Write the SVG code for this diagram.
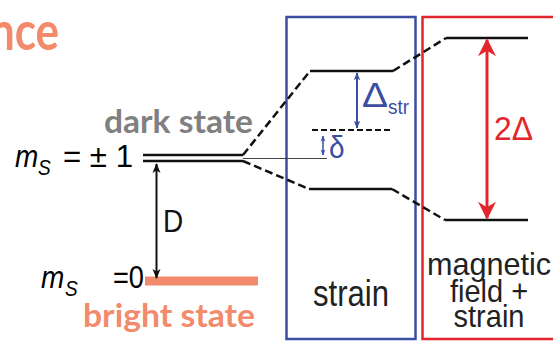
<svg xmlns="http://www.w3.org/2000/svg" width="553" height="342" viewBox="0 0 553 342">
<style>
.lvl{stroke:#111;stroke-width:2.5;fill:none}
.dash{stroke:#111;stroke-width:2.5;fill:none;stroke-dasharray:8 4}
.ar{font-family:"Liberation Sans",Arial,sans-serif}
.lato{font-family:Lato,"Open Sans",sans-serif;font-weight:bold}
.sal{fill:#f28b6c}
</style>
<defs>
<marker id="bk" viewBox="0 0 10 10" refX="9" refY="5" markerWidth="6" markerHeight="5" orient="auto-start-reverse" markerUnits="strokeWidth"><path d="M0,1 L10,5 L0,9 L2.5,5 z" fill="#111"/></marker>
<marker id="bl" viewBox="0 0 10 10" refX="9" refY="5" markerWidth="5" markerHeight="4" orient="auto-start-reverse" markerUnits="strokeWidth"><path d="M0,1 L10,5 L0,9 L2.5,5 z" fill="#3b4ea2"/></marker>
<marker id="rd" viewBox="0 0 10 10" refX="9" refY="5" markerWidth="10" markerHeight="6" orient="auto-start-reverse" markerUnits="strokeWidth"><path d="M0,0 L10,5 L0,10 L3,5 z" fill="#e3262e"/></marker>
</defs>

<text class="lato sal" transform="translate(-10,50) scale(1,1.22)" font-size="44">nce</text>

<g id="boxes">
<rect id="strain-box" x="286.5" y="17" width="129" height="322" fill="none" stroke="#3b4ea2" stroke-width="2.5"/>
<rect id="field-box" x="422.5" y="17" width="145" height="322" fill="none" stroke="#e3262e" stroke-width="2.5"/>
</g>

<g id="level-pm1">
<line class="lvl" x1="143" y1="155" x2="243" y2="155" stroke-width="2"/>
<line class="lvl" x1="143" y1="161" x2="243" y2="161" stroke-width="2"/>
<line x1="243" y1="158.5" x2="327" y2="158.5" stroke="#444" stroke-width="1"/>
<text class="ar" transform="translate(15,167) scale(1,1.15)" font-size="28" font-style="italic">m</text>
<text class="ar" transform="translate(38,175) scale(1,1.15)" font-size="19" font-style="italic">S</text>
<text class="ar" transform="translate(63,167) scale(1,1.15)" font-size="28" textLength="70" lengthAdjust="spacingAndGlyphs">= ± 1</text>
</g>

<g id="level-0">
<line class="lvl" x1="146" y1="281" x2="258" y2="281"/>
<rect x="145" y="276.5" width="113" height="9" fill="#f28b6c"/>
<text class="ar" transform="translate(41,288) scale(1,1.15)" font-size="28" font-style="italic">m</text>
<text class="ar" transform="translate(65,296) scale(1,1.15)" font-size="19" font-style="italic">S</text>
<text class="ar" transform="translate(113,288) scale(1,1.15)" font-size="28" textLength="31" lengthAdjust="spacingAndGlyphs">=0</text>
</g>

<g id="labels">
<text class="lato" x="104" y="133" font-size="32" fill="#808080" textLength="149" lengthAdjust="spacingAndGlyphs">dark state</text>
<text class="lato sal" x="83" y="327" font-size="33" textLength="172" lengthAdjust="spacingAndGlyphs">bright state</text>
</g>

<g id="strain-levels">
<line class="lvl" x1="310" y1="71" x2="393" y2="71"/>
<line class="lvl" x1="309" y1="189" x2="392" y2="189"/>
<line x1="312" y1="130" x2="393" y2="130" stroke="#111" stroke-width="2" stroke-dasharray="6 3"/>
<text class="ar" transform="translate(313,306) scale(1,1.2)" font-size="30" fill="#222" textLength="76" lengthAdjust="spacingAndGlyphs">strain</text>
</g>

<g id="field-levels">
<line class="lvl" x1="446" y1="38" x2="528" y2="38"/>
<line class="lvl" x1="445" y1="220" x2="528" y2="220"/>
<text class="ar" transform="translate(489,275) scale(1,1.08)" font-size="29" text-anchor="middle" fill="#222" textLength="124" lengthAdjust="spacingAndGlyphs">magnetic</text>
<text class="ar" transform="translate(489,302) scale(1,1.08)" font-size="29" text-anchor="middle" fill="#222">field +</text>
<text class="ar" transform="translate(489,327) scale(1,1.08)" font-size="29" text-anchor="middle" fill="#222">strain</text>
</g>

<g id="connectors">
<path class="dash" d="M243,155 L310,71"/>
<path class="dash" d="M243,161 L309,189"/>
<path class="dash" d="M393,71 L446,38"/>
<path class="dash" d="M392,189 L445,220"/>
<line x1="156.5" y1="164" x2="156.5" y2="278" stroke="#111" stroke-width="2" marker-start="url(#bk)" marker-end="url(#bk)"/>
<line x1="357" y1="73" x2="357" y2="128" stroke="#3b4ea2" stroke-width="2" marker-start="url(#bl)" marker-end="url(#bl)"/>
<line x1="323" y1="136" x2="323" y2="155" stroke="#3b4ea2" stroke-width="1.5" marker-start="url(#bl)" marker-end="url(#bl)"/>
<line x1="487" y1="40" x2="487" y2="218" stroke="#e3262e" stroke-width="3" marker-start="url(#rd)" marker-end="url(#rd)"/>
</g>

<g id="arrow-labels">
<text class="ar" transform="translate(163,232) scale(1,1.15)" font-size="28" fill="#111">D</text>
<text class="ar" transform="translate(362,107) scale(1,1.15)" font-size="30" fill="#3b4ea2" textLength="26" lengthAdjust="spacingAndGlyphs">Δ</text>
<text class="ar" transform="translate(388,114) scale(1,1.1)" font-size="19" fill="#3b4ea2">str</text>
<text class="ar" transform="translate(329,158) scale(1,1.1)" font-size="28" fill="#3b4ea2">δ</text>
<text class="ar" transform="translate(494,140) scale(1,1.15)" font-size="29" fill="#e3262e" textLength="39" lengthAdjust="spacingAndGlyphs">2Δ</text>
</g>
</svg>
